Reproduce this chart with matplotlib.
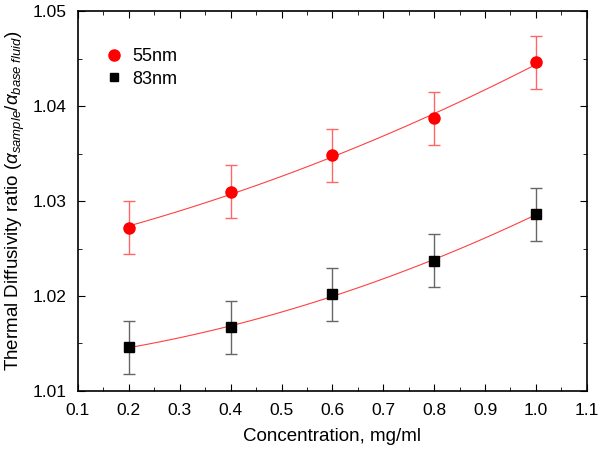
import numpy as np
import matplotlib
matplotlib.use('Agg')
import matplotlib.pyplot as plt
from matplotlib.ticker import MultipleLocator, FormatStrFormatter
from matplotlib.lines import Line2D

plt.rcParams['font.family'] = ['Liberation Sans', 'DejaVu Sans']
plt.rcParams['mathtext.fontset'] = 'custom'
plt.rcParams['mathtext.rm'] = 'Liberation Sans'
plt.rcParams['mathtext.it'] = 'Liberation Sans:italic'

# concentration, mg/ml
conc = [0.2, 0.4, 0.6, 0.8, 1.0]

# thermal diffusivity ratio
ratio_55 = [1.0272, 1.0310, 1.0348, 1.0387, 1.0446]
err_55 = [0.0028, 0.0028, 0.0028, 0.0028, 0.0028]
ratio_83 = [1.0146, 1.0167, 1.0202, 1.0237, 1.0286]
err_83 = [0.0028, 0.0028, 0.0028, 0.0028, 0.0028]

fig = plt.figure(figsize=(6, 4.55), dpi=100)
ax = fig.add_axes([0.13, 0.1407, 0.848, 0.835])

# quadratic fits drawn as thin red lines
xfit = np.linspace(min(conc), max(conc), 100)
for y in (ratio_55, ratio_83):
    p = np.polyfit(conc, y, 2)
    ax.plot(xfit, np.polyval(p, xfit), color='#ff4040', lw=0.8, zorder=2)

ax.errorbar(conc, ratio_55, yerr=err_55, fmt='o', color='red', ms=8,
            ecolor='#ff6666', elinewidth=1, capsize=4, capthick=1, zorder=3)
ax.errorbar(conc, ratio_83, yerr=err_83, fmt='s', color='black', ms=6.5,
            ecolor='#666666', elinewidth=1, capsize=4, capthick=1, zorder=3)

ax.set_xlim(0.1, 1.1)
ax.set_ylim(1.01, 1.05)
ax.xaxis.set_major_locator(MultipleLocator(0.1))
ax.xaxis.set_minor_locator(MultipleLocator(0.05))
ax.yaxis.set_major_locator(MultipleLocator(0.01))
ax.yaxis.set_minor_locator(MultipleLocator(0.005))
ax.xaxis.set_major_formatter(FormatStrFormatter('%.1f'))
ax.yaxis.set_major_formatter(FormatStrFormatter('%.2f'))
ax.tick_params(which='both', direction='in', top=True, right=True,
               labelsize=12.5, pad=8)
ax.tick_params(axis='x', which='major', pad=9)
ax.tick_params(which='major', length=5)
ax.tick_params(which='minor', length=3)
for s in ax.spines.values():
    s.set_linewidth(1.2)

ax.set_xlabel('Concentration, mg/ml', fontsize=13.5, labelpad=7)
ax.set_ylabel(r'Thermal Diffusivity ratio ($\alpha_{sample}/\alpha_{base\ fluid}$)',
              fontsize=13.5, labelpad=4)

handles = [Line2D([], [], ls='none', marker='o', color='red', ms=8),
           Line2D([], [], ls='none', marker='s', color='black', ms=6)]
ax.legend(handles, ['55nm', '83nm'], loc='upper left', frameon=False,
          fontsize=13, bbox_to_anchor=(0.022, 0.945), handletextpad=0.5,
          handlelength=1.0, labelspacing=0.3)

fig.savefig('out.png', dpi=100)
